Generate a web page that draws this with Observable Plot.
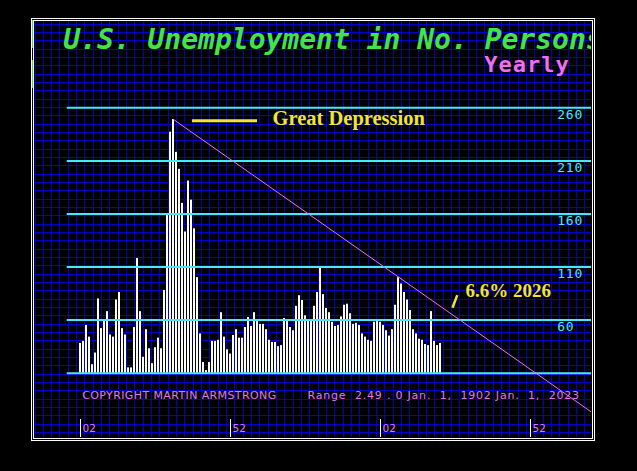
<!DOCTYPE html>
<html><head><meta charset="utf-8">
<script src="https://cdn.jsdelivr.net/npm/d3@7"></script>
<script src="https://cdn.jsdelivr.net/npm/@observablehq/plot@0.6"></script>
<style>
html,body{margin:0;padding:0;background:#000;}
#chart{width:637px;height:471px;}
#chart svg text{white-space:pre;}
</style></head><body><div id="chart"></div>
<script>
// ---- data ----
const startYear = 1902;
const unemployment = [
  38, 40, 55, 44, 18, 29, 80, 52, 60, 68,
  46, 44, 79, 86, 52, 46, 15, 15, 53, 118,
  68, 25, 51, 33, 19, 34, 43, 33, 88, 160,
  237, 249, 218, 202, 170, 143, 191, 173, 146, 100,
  47, 20, 12.5, 20, 40, 40, 41, 67, 44, 32,
  28, 45.5, 51, 43, 43, 53, 62.5, 54, 67, 60,
  56, 56, 51, 41, 39, 39, 35, 36, 61.5, 60.6,
  53, 50, 73, 83, 78.5, 64, 60, 60, 73, 86,
  109, 84, 71, 67, 58, 54, 55, 63, 74, 75,
  66, 56, 57, 55, 47, 44, 41, 40, 58, 60.6,
  58, 55, 50, 45, 51, 74, 100, 94, 86, 79,
  69, 51, 47, 42, 41, 37, 36, 68, 40, 36,
  38
];
const levelLines = [10, 60, 110, 160, 210, 260];
const levelLabels = [60, 110, 160, 210, 260];
const tickYears = [1902, 1952, 2002, 2052];
const tickLabels = ["02", "52", "02", "52"];
const trendYears = [1933, 2073];
const trendValues = [249, -28];
const titleText = "U.S. Unemployment in No. Persons";
const subtitleText = "Yearly";
const annotationText = "Great Depression";
const forecastText = "6.6% 2026";
const copyrightText = "COPYRIGHT MARTIN ARMSTRONG";
const rangeText = "Range  2.49 . 0 Jan.  1,  1902 Jan.  1,  2023";

// ---- tables ----
const rows = unemployment.map((value, i) => ({year: startYear + i, value}));
const trend = trendYears.map((year, i) => ({year, value: trendValues[i]}));
const ticks = tickYears.map((year, i) => ({year, label: tickLabels[i]}));
const base = levelLines[0];

const CYAN = "#44eaf8", PINK = "#f070f0", YELLOW = "#f2e62a", GREEN = "#44e444", LABEL = "#e27ae2";

const svg = Plot.plot({
  width: 637, height: 471,
  marginLeft: 34, marginRight: 46, marginTop: 21, marginBottom: 34,
  x: {domain: [1902, 2052], range: [80, 530], axis: null},
  y: {domain: [10, 260], range: [372.7, 107.3], axis: null},
  style: {background: "#000"},
  marks: [
    Plot.rect(rows, {x1: d => d.year - 1/3, x2: d => d.year + 1/3, y1: () => base, y2: "value", fill: "#fff"}),
    Plot.ruleY(levelLines, {stroke: CYAN, strokeWidth: 2, insetLeft: 32.7}),
    Plot.text(levelLabels, {y: d => d, text: d => String(d), frameAnchor: "right", textAnchor: "start", lineAnchor: "top",
      dx: -34.3, dy: 2, fill: CYAN, fontFamily: "DejaVu Sans Mono", fontSize: 13}),
    Plot.line(trend, {x: "year", y: "value", stroke: PINK, strokeWidth: 1, clip: true}),
    // Great Depression annotation
    Plot.ruleY([247.8], {x1: 1939.3, x2: 1961, stroke: YELLOW, strokeWidth: 3}),
    Plot.text([annotationText], {x: 1966, y: 250, text: d => d, textAnchor: "start", fill: YELLOW,
      fontFamily: "Liberation Serif", fontWeight: "bold", fontSize: 20.5}),
    // forecast annotation
    Plot.link([forecastText], {x1: 2026, y1: 71.6, x2: 2027.6, y2: 83.5, stroke: YELLOW, strokeWidth: 2.5}),
    Plot.text([forecastText], {x: 2030.3, y: 87.9, text: d => d, textAnchor: "start", fill: YELLOW,
      fontFamily: "Liberation Serif", fontWeight: "bold", fontSize: 19}),
    // titles
    Plot.text([titleText], {frameAnchor: "top-left", text: d => d, textAnchor: "start", lineAnchor: "top", dx: 28.7, dy: 7.3,
      fill: GREEN, fontFamily: "DejaVu Sans Mono", fontWeight: "bold", fontStyle: "italic", fontSize: 28, clip: true}),
    Plot.text([subtitleText], {frameAnchor: "top-left", text: d => d, textAnchor: "start", lineAnchor: "top", dx: 449.8, dy: 34.5,
      fill: PINK, fontFamily: "DejaVu Sans Mono", fontWeight: "bold", fontSize: 22}),
    // bottom text
    Plot.text([copyrightText], {frameAnchor: "bottom-left", text: d => d, textAnchor: "start", dx: 47.7, dy: -39,
      fill: LABEL, fontFamily: "DejaVu Sans", fontSize: 11}),
    Plot.text([rangeText], {frameAnchor: "bottom-left", text: d => d, textAnchor: "start", dx: 273, dy: -39,
      fill: LABEL, fontFamily: "DejaVu Sans", fontSize: 11}),
    // x ticks
    Plot.ruleX(ticks, {x: "year", stroke: "#fff", insetTop: 398}),
    Plot.text(ticks, {x: "year", text: "label", frameAnchor: "bottom", textAnchor: "start", dx: 2, dy: -6,
      fill: LABEL, fontFamily: "DejaVu Sans", fontSize: 10.5}),
    // double white frame
    Plot.frame({stroke: "#fff", inset: -1}),
    Plot.frame({stroke: "#fff", inset: -3})
  ]
});

// background pixel grid (decoration, drawn behind the marks)
const grid = d3.create("svg:g").attr("stroke", "#0000c8").attr("shape-rendering", "crispEdges");
for (let x = 35; x < 591; x += 8.333) grid.append("line").attr("x1", x).attr("x2", x).attr("y1", 21).attr("y2", 437);
for (let y = 24.3; y < 437; y += 8.333) grid.append("line").attr("x1", 34).attr("x2", 591).attr("y1", y).attr("y2", y);
grid.append("line").attr("stroke", GREEN).attr("x1", 32.5).attr("x2", 32.5).attr("y1", 20).attr("y2", 48);
grid.append("line").attr("stroke", GREEN).attr("x1", 32.5).attr("x2", 32.5).attr("y1", 60).attr("y2", 88);
svg.insertBefore(grid.node(), svg.querySelector("g"));

d3.select(svg).selectAll("text").each(function() {
  const t = this.textContent;
  if (t === copyrightText) { this.setAttribute("textLength", 194); this.setAttribute("lengthAdjust", "spacing"); }
  if (t === rangeText) { this.setAttribute("textLength", 271.6); this.setAttribute("lengthAdjust", "spacing"); }
  if (t === subtitleText) this.style.letterSpacing = "1px";
  if (levelLabels.map(String).includes(t)) this.style.letterSpacing = "0.8px";
});

document.getElementById("chart").appendChild(svg);
</script>
</body></html>
